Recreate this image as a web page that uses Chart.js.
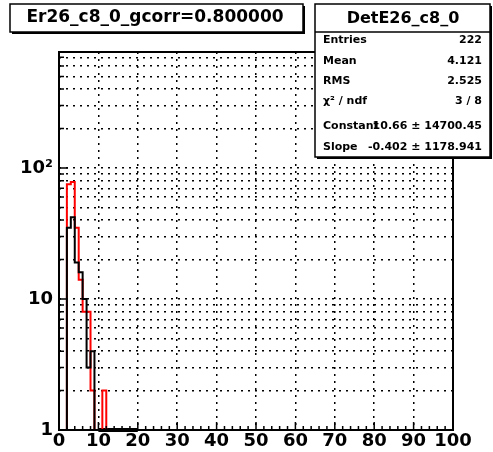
<!DOCTYPE html>
<html>
<head>
<meta charset="utf-8">
<script src="https://cdn.jsdelivr.net/npm/chart.js@4.4.0/dist/chart.umd.min.js"></script>
<style>
  body { margin: 0; background: #fff; }
  canvas { display: block; }
</style>
</head>
<body>
<canvas id="grafico" width="493" height="452"></canvas>
<script>
// histograms: 1-unit bins starting at x = 2
const binInicio  = 2;
const binLargura = 1;
const contagemVermelho = [75, 78, 35, 14, 8, 8, 2, 0, 0, 2];
const contagemPreto    = [35, 42, 19, 16, 10, 3, 4];
// expo fit range, drawn on the floor of the log axis
const ajusteX = [10, 20];

const ticksX   = [0, 10, 20, 30, 40, 50, 60, 70, 80, 90, 100];
const ticksY   = [1, 2, 3, 4, 5, 6, 7, 8, 9, 10, 20, 30, 40, 50, 60, 70, 80, 90, 100, 200, 300, 400, 500, 600, 700];
const rotulosY = { 1: '1', 10: '10', 100: '10²' };
const yMin = 1, yMax = 768;

const tituloTexto = 'Er26_c8_0_gcorr=0.800000';
const statsTitulo = 'DetE26_c8_0';
const statsNomes   = ['Entries', 'Mean', 'RMS', 'χ² / ndf', 'Constant', 'Slope'];
const statsValores = ['222', '4.121', '2.525', '3 / 8', '10.66 ± 14700.45', '-0.402 ± 1178.941'];

// bin contents -> outline points (empty bins sit on the axis floor)
function contorno(conteudo) {
  const pts = [{ x: binInicio, y: yMin }];
  conteudo.forEach((c, i) => {
    const v = c > 0 ? c : yMin;
    pts.push({ x: binInicio + i * binLargura, y: v });
    pts.push({ x: binInicio + (i + 1) * binLargura, y: v });
  });
  pts.push({ x: binInicio + conteudo.length * binLargura, y: yMin });
  return pts;
}

const fonte = 'DejaVu Sans';

const moldura = {
  id: 'moldura',
  beforeDraw(chart) {
    const ctx = chart.ctx;
    ctx.save();
    ctx.fillStyle = '#fff';
    ctx.fillRect(0, 0, chart.width, chart.height);
    ctx.restore();
  },
  afterDatasetsDraw(chart) {
    const { ctx, chartArea: a, scales } = chart;
    ctx.save();
    ctx.strokeStyle = '#000';
    ctx.lineWidth = 1.5;
    ctx.beginPath();
    for (let v = 0; v <= 100; v += 2) {
      const px = scales.x.getPixelForValue(v);
      const len = v % 10 === 0 ? 8 : 4;
      ctx.moveTo(px, a.bottom);
      ctx.lineTo(px, a.bottom - len);
    }
    ticksY.forEach(v => {
      const py = scales.y.getPixelForValue(v);
      const len = rotulosY[v] ? 9 : 5;
      ctx.moveTo(a.left, py);
      ctx.lineTo(a.left + len, py);
    });
    ctx.stroke();
    ctx.lineWidth = 2;
    ctx.strokeRect(a.left, a.top, a.right - a.left, a.bottom - a.top);
    ctx.restore();
  },
  afterDraw(chart) {
    const ctx = chart.ctx;
    ctx.save();
    ctx.strokeStyle = '#000';
    ctx.fillStyle = '#fff';

    // title box
    ctx.lineWidth = 1.5;
    ctx.fillRect(10, 4, 293, 28);
    ctx.strokeRect(10, 4, 293, 28);
    ctx.fillStyle = '#000';
    ctx.fillRect(303, 6, 2, 27);
    ctx.fillRect(12, 32, 293, 2);
    ctx.font = `bold 17px "${fonte}"`;
    ctx.textAlign = 'center';
    ctx.textBaseline = 'middle';
    ctx.fillText(tituloTexto, 155, 18);

    // stats box
    ctx.fillStyle = '#fff';
    ctx.fillRect(315, 4, 175, 153);
    ctx.strokeRect(315, 4, 175, 153);
    ctx.fillStyle = '#000';
    ctx.fillRect(490, 6, 2, 153);
    ctx.fillRect(317, 157, 175, 2);
    ctx.beginPath();
    ctx.moveTo(315, 32);
    ctx.lineTo(490, 32);
    ctx.stroke();
    ctx.font = `bold 16px "${fonte}"`;
    ctx.fillText(statsTitulo, 403, 19);

    const linhasY = [40, 61.5, 81.5, 101, 126, 147.5];
    ctx.font = `bold 11px "${fonte}"`;
    statsNomes.forEach((nome, i) => {
      ctx.textAlign = 'left';
      ctx.fillText(nome, 323, linhasY[i]);
      ctx.textAlign = 'right';
      ctx.fillText(statsValores[i], 482, linhasY[i]);
    });
    ctx.restore();
  }
};

const ctxGrafico = document.getElementById('grafico').getContext('2d');

new Chart(ctxGrafico, {
  type: 'scatter',
  data: {
    datasets: [
      {
        label: 'preto',
        data: contorno(contagemPreto),
        showLine: true,
        borderColor: '#000',
        borderWidth: 2,
        pointRadius: 0,
        borderJoinStyle: 'miter',
        order: 0
      },
      {
        label: 'vermelho',
        data: contorno(contagemVermelho),
        showLine: true,
        borderColor: '#f00',
        borderWidth: 2,
        pointRadius: 0,
        borderJoinStyle: 'miter',
        order: 1
      },
      {
        label: 'ajuste',
        data: ajusteX.map(x => ({ x, y: yMin })),
        showLine: true,
        borderColor: '#000',
        borderWidth: 4,
        pointRadius: 0,
        clip: { left: 0, top: 0, right: 0, bottom: false },
        order: 2
      }
    ]
  },
  options: {
    responsive: false,
    animation: false,
    devicePixelRatio: 1,
    layout: { padding: { top: 52, right: 40, left: 0, bottom: 0 } },
    plugins: {
      legend: { display: false },
      tooltip: { enabled: false },
      title: { display: false }
    },
    scales: {
      x: {
        type: 'linear',
        min: 0,
        max: 100,
        afterBuildTicks: s => { s.ticks = ticksX.map(v => ({ value: v })); },
        afterFit: s => { s.height = 22; },
        grid: { color: '#000', lineWidth: 1.5, drawTicks: false },
        border: { display: false, dash: [2, 5] },
        ticks: {
          autoSkip: false,
          maxRotation: 0,
          minRotation: 0,
          padding: 1,
          color: '#000',
          font: { family: fonte, weight: 'bold', size: 18 },
          callback: v => String(v)
        }
      },
      y: {
        type: 'logarithmic',
        min: yMin,
        max: yMax,
        afterBuildTicks: s => { s.ticks = ticksY.map(v => ({ value: v })); },
        afterFit: s => { s.width = 59; },
        grid: { color: '#000', lineWidth: 1.5, drawTicks: false },
        border: { display: false, dash: [2, 5] },
        ticks: {
          autoSkip: false,
          padding: 6,
          color: '#000',
          font: { family: fonte, weight: 'bold', size: 18 },
          callback: v => rotulosY[v] || ''
        }
      }
    }
  },
  plugins: [moldura]
});
</script>
</body>
</html>
